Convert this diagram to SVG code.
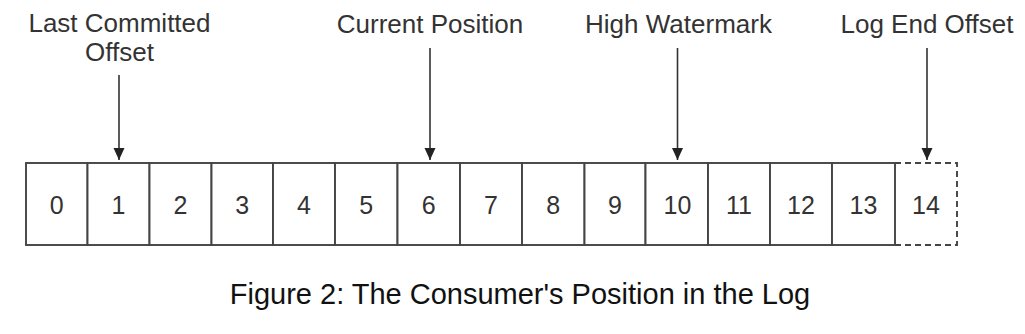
<svg xmlns="http://www.w3.org/2000/svg" width="1025" height="334" viewBox="0 0 1025 334">
<style>
.lbl{font-family:"Liberation Sans",Arial,Helvetica,sans-serif;font-size:26px;fill:#333;text-anchor:middle}
.num{font-family:"Liberation Sans",Arial,Helvetica,sans-serif;font-size:25px;fill:#333;text-anchor:middle}
.cap{font-family:"Liberation Sans",Arial,Helvetica,sans-serif;font-size:29px;fill:#111;text-anchor:middle}
.cell{fill:#fff;stroke:#444;stroke-width:1.9}
.dash{fill:none;stroke:#444;stroke-width:1.9;stroke-dasharray:6 4}
.arr{stroke:#333;stroke-width:1.6;fill:none;marker-end:url(#ah)}
</style>
<defs>
<marker id="ah" markerUnits="userSpaceOnUse" markerWidth="12" markerHeight="12" refX="12" refY="5.5" orient="auto">
<path d="M0,0 L12,5.5 L0,11 z" fill="#222"/>
</marker>
</defs>
<rect width="1025" height="334" fill="#fff"/>
<g id="cells">
<g id="c0"><rect class="cell" x="26" y="163" width="61.5" height="82"/><text class="num" x="56.8" y="213.5">0</text></g>
<g id="c1"><rect class="cell" x="87.5" y="163" width="62" height="82"/><text class="num" x="118.5" y="213.5">1</text></g>
<g id="c2"><rect class="cell" x="149.5" y="163" width="62" height="82"/><text class="num" x="180.5" y="213.5">2</text></g>
<g id="c3"><rect class="cell" x="211.5" y="163" width="61.5" height="82"/><text class="num" x="242.3" y="213.5">3</text></g>
<g id="c4"><rect class="cell" x="273" y="163" width="62" height="82"/><text class="num" x="304" y="213.5">4</text></g>
<g id="c5"><rect class="cell" x="335" y="163" width="62.5" height="82"/><text class="num" x="366.3" y="213.5">5</text></g>
<g id="c6"><rect class="cell" x="397.5" y="163" width="62.5" height="82"/><text class="num" x="428.8" y="213.5">6</text></g>
<g id="c7"><rect class="cell" x="460" y="163" width="62" height="82"/><text class="num" x="491" y="213.5">7</text></g>
<g id="c8"><rect class="cell" x="522" y="163" width="62.5" height="82"/><text class="num" x="553.3" y="213.5">8</text></g>
<g id="c9"><rect class="cell" x="584.5" y="163" width="61" height="82"/><text class="num" x="615" y="213.5">9</text></g>
<g id="c10"><rect class="cell" x="645.5" y="163" width="62.5" height="82"/><text class="num" x="677.5" y="213.5">10</text></g>
<g id="c11"><rect class="cell" x="708" y="163" width="62" height="82"/><text class="num" x="739" y="213.5">11</text></g>
<g id="c12"><rect class="cell" x="770" y="163" width="62" height="82"/><text class="num" x="801" y="213.5">12</text></g>
<g id="c13"><rect class="cell" x="832" y="163" width="63" height="82"/><text class="num" x="863.5" y="213.5">13</text></g>
<g id="c14"><path class="dash" d="M895,163 H957 V245 H895"/><text class="num" x="926" y="213.5">14</text></g>
</g>
<g id="labels">
<g id="lbl-lco"><text class="lbl" x="119.5" y="32">Last Committed</text><text class="lbl" x="119.5" y="61">Offset</text></g>
<g id="lbl-cp"><text class="lbl" x="430" y="32.5">Current Position</text></g>
<g id="lbl-hw"><text class="lbl" x="678.5" y="32.5">High Watermark</text></g>
<g id="lbl-leo"><text class="lbl" x="927" y="32.5">Log End Offset</text></g>
</g>
<g id="connectors">
<line class="arr" x1="119" y1="75" x2="119" y2="160"/>
<line class="arr" x1="430" y1="48" x2="430" y2="160"/>
<line class="arr" x1="677.5" y1="48" x2="677.5" y2="160"/>
<line class="arr" x1="927" y1="48" x2="927" y2="160"/>
</g>
<text class="cap" x="520" y="303.5">Figure 2: The Consumer's Position in the Log</text>
</svg>
